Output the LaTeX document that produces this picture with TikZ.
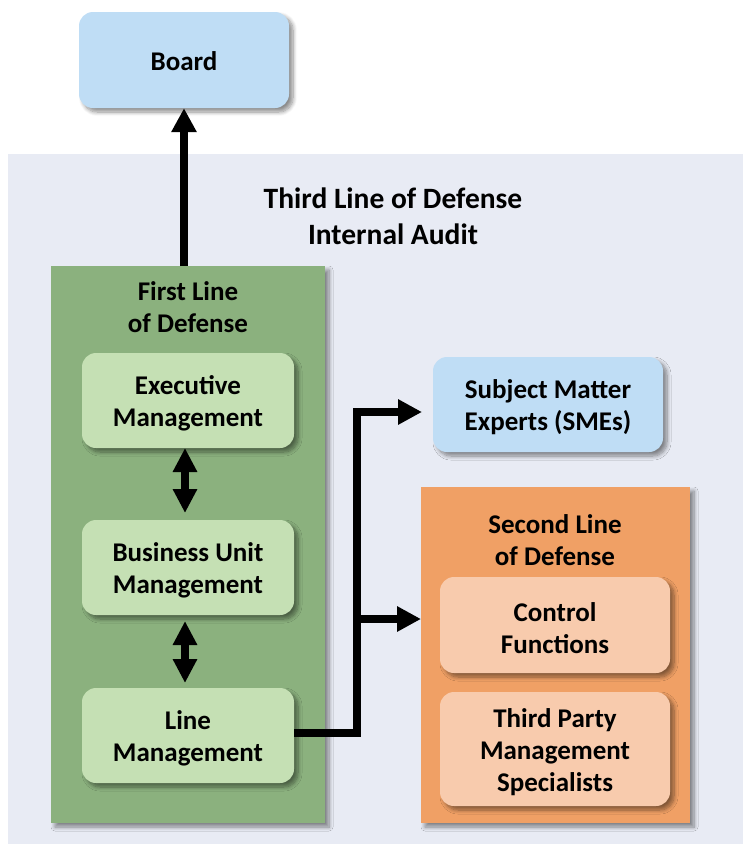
\documentclass[tikz,border=0pt]{standalone}
\usepackage{fontspec}
\setmainfont{Carlito}
\usetikzlibrary{arrows.meta,shadows.blur,calc}
\definecolor{bgc}{HTML}{E8EBF4}
\definecolor{bluebox}{HTML}{BFDDF5}
\definecolor{greenouter}{HTML}{8BB17E}
\definecolor{greeninner}{HTML}{C5E0B4}
\definecolor{orangeouter}{HTML}{F0A065}
\definecolor{orangeinner}{HTML}{F8CBAD}
\tikzset{
  shad/.style={blur shadow={shadow xshift=4pt, shadow yshift=-4pt, shadow blur steps=8, shadow blur radius=4pt, shadow opacity=45}},
  btext/.style={align=center, inner sep=0pt, yshift=-3pt, font=\fontsize{27}{32}\selectfont\bfseries},
  rbox/.style={shad, rounded corners=14pt, draw=none, inner sep=0pt, label={[btext]center:{#1}}},
  sbox/.style={shad, rounded corners=14pt, draw=none, inner sep=0pt, label={[btext, yshift=2pt]center:{#1}}},
  panel/.style={shad, draw=none, inner sep=0pt},
  lbl/.style={align=center, font=\fontsize{27}{32}\selectfont\bfseries, inner sep=0pt},
  conn/.style={line width=8pt, line join=miter, line cap=butt},
  tip/.style={-{Triangle[width=24pt,length=24pt]}},
  dtip/.style={{Triangle[width=23pt,length=24pt]}-{Triangle[width=23pt,length=24pt]}}
}
\begin{document}
\begin{tikzpicture}[x=1pt,y=-1pt]
\useasboundingbox (0,0) rectangle (743,844);
\fill[bgc] (8,154) rectangle (743,844);

\node[sbox={Board}, fill=bluebox, minimum width=210pt, minimum height=96pt] (board) at (184,60) {};

\node[lbl, font=\fontsize{29.5}{36}\selectfont\bfseries] (title) at (393,216.5) {Third Line of Defense\\Internal Audit};

\node[panel, fill=greenouter, minimum width=274pt, minimum height=557pt] (first) at (188,544.5) {};
\node[lbl] (firstlbl) at (188,307) {First Line\\of Defense};
\node[rbox={Executive\\Management}, fill=greeninner, minimum width=212pt, minimum height=95pt] (exec) at (188,400.5) {};
\node[rbox={Business Unit\\Management}, fill=greeninner, minimum width=212pt, minimum height=95pt] (bu) at (188,567.5) {};
\node[rbox={Line\\Management}, fill=greeninner, minimum width=212pt, minimum height=95pt] (line) at (188,735.5) {};

\node[rbox={Subject Matter\\Experts (SMEs)}, fill=bluebox, minimum width=230pt, minimum height=95pt] (sme) at (548,404.5) {};

\node[panel, fill=orangeouter, minimum width=269pt, minimum height=336pt] (second) at (555.5,655) {};
\node[lbl] (secondlbl) at (555,540) {Second Line\\of Defense};
\node[rbox={Control\\Functions}, fill=orangeinner, minimum width=230pt, minimum height=96pt] (ctrl) at (555,625) {};
\node[rbox={Third Party\\Management\\Specialists}, fill=orangeinner, minimum width=230pt, minimum height=114pt] (tpm) at (555,749) {};

% connectors
\coordinate (bstart) at (184,266);
\draw[conn, tip] (bstart) -- (board.south -| bstart);
\coordinate (da1) at (185,448);
\coordinate (da2) at (185,513);
\coordinate (db1) at (185,621);
\coordinate (db2) at (185,683);
\draw[conn, dtip] (da1) -- (da2);
\draw[conn, dtip] (db1) -- (db2);

\coordinate (j) at (357,733);
\coordinate (smein) at (422,412);
\coordinate (ctrlin) at (421,619);
\draw[conn, tip] (line.east |- j) -- (j) -- (j |- smein) -- (smein);
\draw[conn, tip] (j |- ctrlin) -- (ctrlin);
\end{tikzpicture}
\end{document}
